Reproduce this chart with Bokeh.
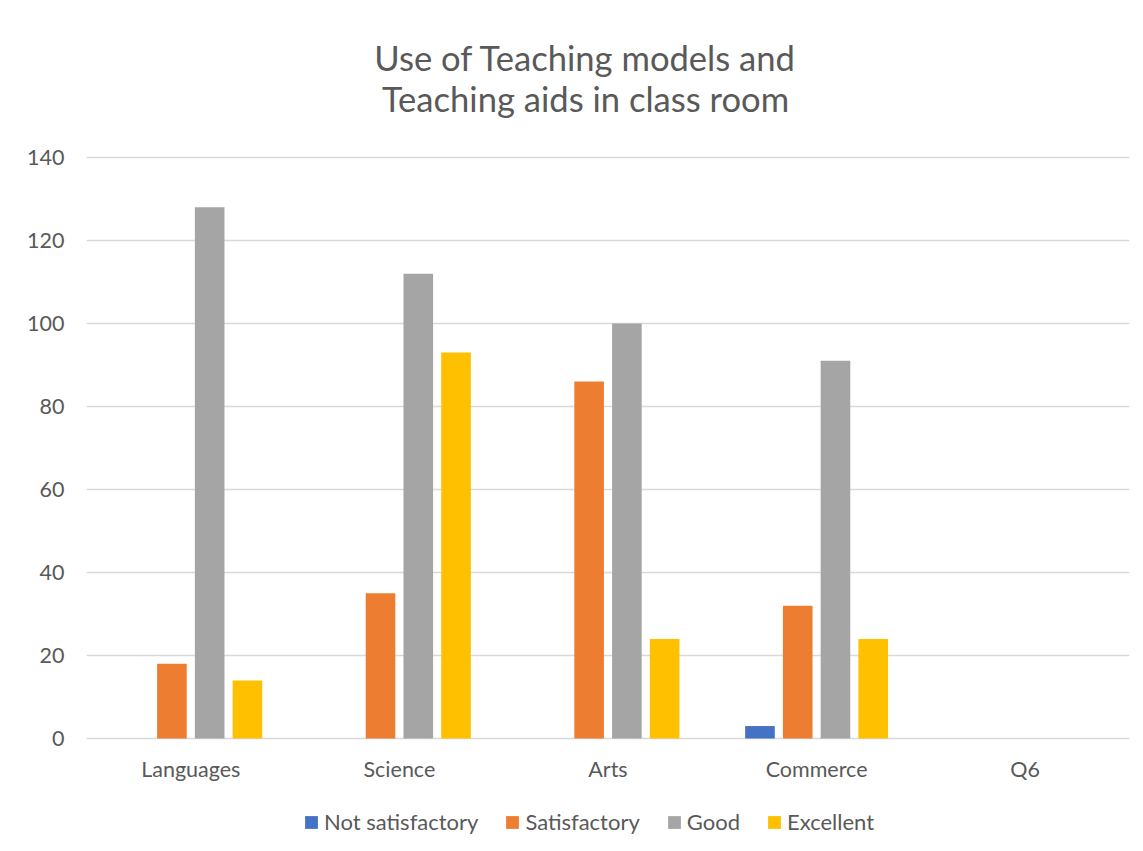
from bokeh.plotting import figure
from bokeh.models import (FactorRange, Range1d, FixedTicker, Legend, LegendItem,
                          Label, ColumnDataSource)
from bokeh.transform import dodge
from bokeh.core.properties import value
from bokeh.embed import file_html
from bokeh.resources import INLINE

# ---- data ----
categories = ["Languages", "Science", "Arts", "Commerce", "Q6"]
not_satisfactory = [0, 0, 0, 3, 0]
satisfactory = [18, 35, 86, 32, 0]
good = [128, 112, 100, 91, 0]
excellent = [14, 93, 24, 24, 0]
series_names = ["Not satisfactory", "Satisfactory", "Good", "Excellent"]
series_colors = ["#4472C4", "#ED7D31", "#A5A5A5", "#FFC000"]
y_ticks = [0, 20, 40, 60, 80, 100, 120, 140]
title_lines = ["Use of Teaching models and", "Teaching aids in class room"]

FONT = "Lato"
TXT = "#595959"
GRID = "#D9D9D9"

# ---- layout geometry (pixels) ----
W, H = 1135, 843
FRAME_L, FRAME_R, FRAME_T, FRAME_B = 86, 1129, 4, 840
ZERO_Y, TOP_Y = 738, 157          # pixel rows of value 0 and value 140
PX = (ZERO_Y - TOP_Y) / 140.0     # pixels per unit
y_start = -(FRAME_B - ZERO_Y) / PX
y_end = 140 + (TOP_Y - FRAME_T) / PX

def y_at(row):
    return (ZERO_Y - row) / PX

p = figure(x_range=FactorRange(factors=categories, range_padding=0),
           y_range=Range1d(y_start, y_end),
           width=W, height=H, x_axis_location=None,
           output_backend="svg", toolbar_location=None,
           min_border_left=FRAME_L, min_border_right=W - FRAME_R,
           min_border_top=FRAME_T, min_border_bottom=H - FRAME_B,
           title=None)
p.outline_line_color = None
p.background_fill_color = "white"
p.border_fill_color = "white"

# y axis
p.yaxis.ticker = FixedTicker(ticks=y_ticks)
p.ygrid.ticker = FixedTicker(ticks=y_ticks)
p.ygrid.grid_line_color = GRID
p.ygrid.grid_line_width = 1.3
p.xgrid.grid_line_color = None
ax = p.yaxis[0]
ax.major_tick_line_color = None
ax.minor_tick_line_color = None
ax.major_tick_out = 0
ax.major_tick_in = 0
ax.minor_tick_out = 0
ax.axis_line_color = None
ax.major_label_text_font = FONT
ax.major_label_text_color = TXT
ax.major_label_text_font_size = "21.5px"
ax.major_label_standoff = 22

# category labels (x axis)
p.text(x=categories, y=[y_at(768)] * len(categories), text=categories,
       text_align="center", text_baseline="alphabetic",
       text_font=value(FONT), text_font_size="21.5px", text_color=TXT)

# bars
series_values = [not_satisfactory, satisfactory, good, excellent]
bar_width = 0.142
step = 0.181
renderers = []
for i, (name, vals, col) in enumerate(zip(series_names, series_values, series_colors)):
    src = ColumnDataSource(dict(cat=categories, val=vals))
    off = (i - 1.5) * step
    r = p.vbar(x=dodge("cat", off, range=p.x_range), top="val", width=bar_width,
               source=src, fill_color=col, line_color=None)
    renderers.append(r)

legend = Legend(items=[LegendItem(label=n, renderers=[r]) for n, r in zip(series_names, renderers)],
                location=(217, 5), orientation="horizontal",
                glyph_width=16, glyph_height=16, label_standoff=5, spacing=26,
                padding=0, margin=0, border_line_color=None, background_fill_alpha=0,
                label_text_font=FONT, label_text_font_size="22px", label_text_color=TXT)
p.add_layout(legend)

# title (two centered lines)
title_x = (585 - FRAME_L) / ((FRAME_R - FRAME_L) / len(categories))
for txt, row in zip(title_lines, [57, 98]):
    p.add_layout(Label(x=title_x, y=y_at(row), text=txt,
                       text_align="center", text_baseline="alphabetic",
                       text_font=FONT, text_font_size="34.6px", text_color=TXT))

open("out.html", "w").write(file_html(p, INLINE))
